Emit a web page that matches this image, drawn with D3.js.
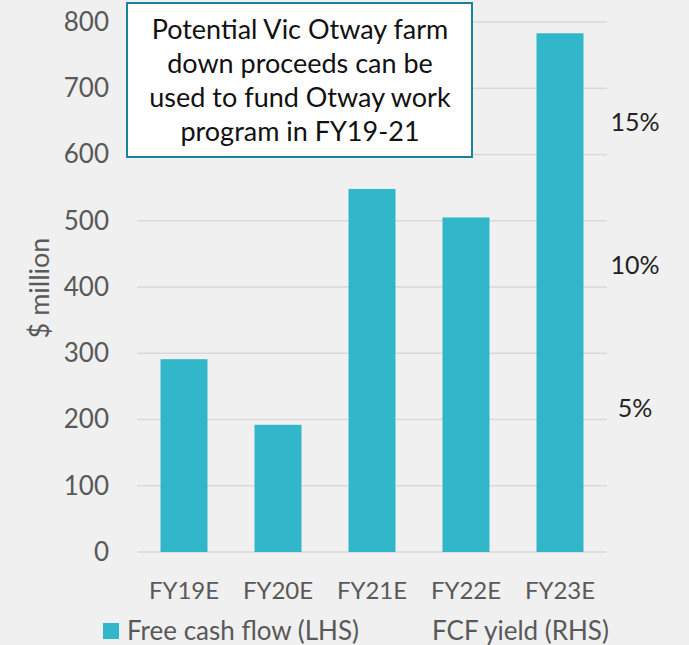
<!DOCTYPE html>
<html>
<head>
<meta charset="utf-8">
<script src="https://cdn.jsdelivr.net/npm/d3@7"></script>
<style>
  body { margin: 0; background: #f0f0f0; }
  svg { display: block; font-family: Lato, "Open Sans", sans-serif; }
</style>
</head>
<body>
<div id="chart"></div>
<script>
// Chart data
var categories = ["FY19E", "FY20E", "FY21E", "FY22E", "FY23E"];
var fcfValues = [291, 192, 548, 505, 783];
var leftTicks = [0, 100, 200, 300, 400, 500, 600, 700, 800];
var rightTicks = [0.05, 0.10, 0.15];
var noteLines = ["Potential Vic Otway farm", "down proceeds can be", "used to fund Otway work", "program in FY19-21"];
var legendLabels = ["Free cash flow (LHS)", "FCF yield (RHS)"];

var width = 689;
var height = 645;
var margin = {top: 22, right: 82, bottom: 93, left: 137};

var svg = d3.select("#chart")
  .append("svg")
  .attr("width", width)
  .attr("height", height);

svg.append("rect")
  .attr("width", width)
  .attr("height", height)
  .attr("fill", "#f0f0f0");

var x = d3.scaleBand()
  .domain(categories)
  .range([margin.left, width - margin.right])
  .paddingInner(0.5)
  .paddingOuter(0.25);

var y = d3.scaleLinear()
  .domain([0, 800])
  .range([height - margin.bottom, margin.top]);

// right axis: 0% sits on the baseline
var yRight = d3.scaleLinear()
  .domain([0, 0.05])
  .range([height - margin.bottom, height - margin.bottom - 143]);

// gridlines
svg.append("g")
  .selectAll("line")
  .data(leftTicks)
  .join("line")
  .attr("x1", margin.left)
  .attr("x2", width - margin.right)
  .attr("y1", d => y(d))
  .attr("y2", d => y(d))
  .attr("stroke", "#d9d9d9")
  .attr("stroke-width", 1.5);

// left axis labels
var leftAxis = svg.append("g")
  .attr("transform", `translate(${margin.left - 28},0)`)
  .call(d3.axisLeft(y).tickValues(leftTicks).tickSize(0).tickPadding(0));
leftAxis.select(".domain").remove();
leftAxis.selectAll("text")
  .attr("font-size", 26)
  .attr("font-family", "Lato, sans-serif")
  .attr("fill", "#595959");

// bars
svg.append("g")
  .selectAll("rect")
  .data(fcfValues)
  .join("rect")
  .attr("x", (d, i) => x(categories[i]))
  .attr("y", d => y(d))
  .attr("width", x.bandwidth())
  .attr("height", d => y(0) - y(d))
  .attr("fill", "#31b6ca");

// x axis labels
var xAxis = svg.append("g")
  .attr("transform", `translate(0,${height - margin.bottom + 30})`)
  .call(d3.axisBottom(x).tickSize(0).tickPadding(0));
xAxis.select(".domain").remove();
xAxis.selectAll("text")
  .attr("font-size", 24)
  .attr("font-family", "Lato, sans-serif")
  .attr("fill", "#595959");

// right axis labels
svg.append("g")
  .selectAll("text")
  .data(rightTicks)
  .join("text")
  .attr("x", 635)
  .attr("y", d => yRight(d) - 1)
  .attr("dy", "0.35em")
  .attr("text-anchor", "middle")
  .attr("font-size", 25)
  .attr("fill", "#222")
  .text(d => d3.format(".0%")(d));

// y axis title
svg.append("text")
  .attr("transform", "translate(40,288) rotate(-90)")
  .attr("text-anchor", "middle")
  .attr("dy", "0.35em")
  .attr("font-size", 27)
  .attr("fill", "#595959")
  .text("$ million");

// annotation box
var note = svg.append("g");
note.append("rect")
  .attr("x", 127)
  .attr("y", 3)
  .attr("width", 345)
  .attr("height", 154)
  .attr("fill", "#fff")
  .attr("stroke", "#17849a")
  .attr("stroke-width", 2);
note.selectAll("text")
  .data(noteLines)
  .join("text")
  .attr("x", 300)
  .attr("y", (d, i) => 30 + i * 34)
  .attr("dy", "0.35em")
  .attr("text-anchor", "middle")
  .attr("font-size", 27)
  .attr("fill", "#111")
  .text(d => d);

// legend
var legend = svg.append("g");
legend.append("rect")
  .attr("x", 103)
  .attr("y", 623)
  .attr("width", 16)
  .attr("height", 16)
  .attr("fill", "#31b6ca");
legend.selectAll("text")
  .data(legendLabels)
  .join("text")
  .attr("x", (d, i) => i === 0 ? 127 : 432)
  .attr("y", 631)
  .attr("dy", "0.35em")
  .attr("font-size", 26)
  .attr("fill", "#595959")
  .text(d => d);
</script>
</body>
</html>
